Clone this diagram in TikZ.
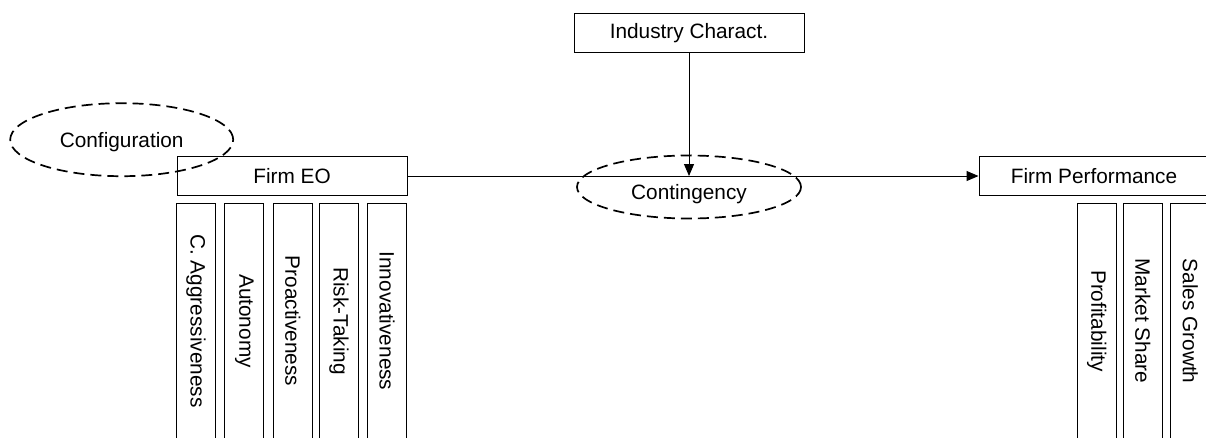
\documentclass[tikz,border=0pt]{standalone}
\usepackage{fontspec}
\setmainfont{Liberation Sans}
\usetikzlibrary{shapes.geometric,arrows.meta}
\begin{document}
\begin{tikzpicture}[x=1pt,y=-1pt,
  every node/.style={font=\fontsize{20.8}{24}\selectfont, inner sep=0pt},
  hbox/.style={draw, line width=1pt, rectangle, minimum width=230pt, minimum height=38.5pt},
  vbox/.style={draw, line width=1pt, rectangle, rotate=-90, minimum width=235.4pt, minimum height=39pt},
  dell/.style={draw, ellipse, line width=1.7pt, dash pattern=on 11pt off 6pt},
  conn/.style={line width=1pt},
  arr/.style={conn, -{Triangle[length=12pt,width=10pt]}}]
\useasboundingbox (0,0) rectangle (1206,437);
\clip (0,0) rectangle (1206,437);
\node[hbox] (eo) at (292,176) {Firm EO};
\node[hbox, minimum height=39pt] (ind) at (689,32.8) {Industry Charact.};
\node[hbox] (perf) at (1094,176) {Firm Performance};
\node[dell, minimum width=224pt, minimum height=63pt, text height=25pt, text depth=0pt] (cont) at (689,187) {Contingency};
\node[dell, minimum width=223pt, minimum height=73pt, text depth=0pt] (conf) at (121.7,139.7) {Configuration};
\node[vbox] (ca) at (196,321) {C. Aggressiveness};
\node[vbox] (au) at (244.3,321) {Autonomy};
\node[vbox] (pr) at (292.8,321) {Proactiveness};
\node[vbox] (rt) at (339,321) {Risk-Taking};
\node[vbox] (in) at (387,321) {Innovativeness};
\node[vbox] (pf) at (1096.7,321) {Profitability};
\node[vbox] (ms) at (1142.8,321) {Market Share};
\node[vbox] (sg) at (1190.2,321) {Sales Growth};
\coordinate (j) at (ind.south |- eo.east);
\draw[arr] (eo.east) -- (perf.west);
\draw[arr] (ind.south) -- (j);
\end{tikzpicture}
\end{document}
